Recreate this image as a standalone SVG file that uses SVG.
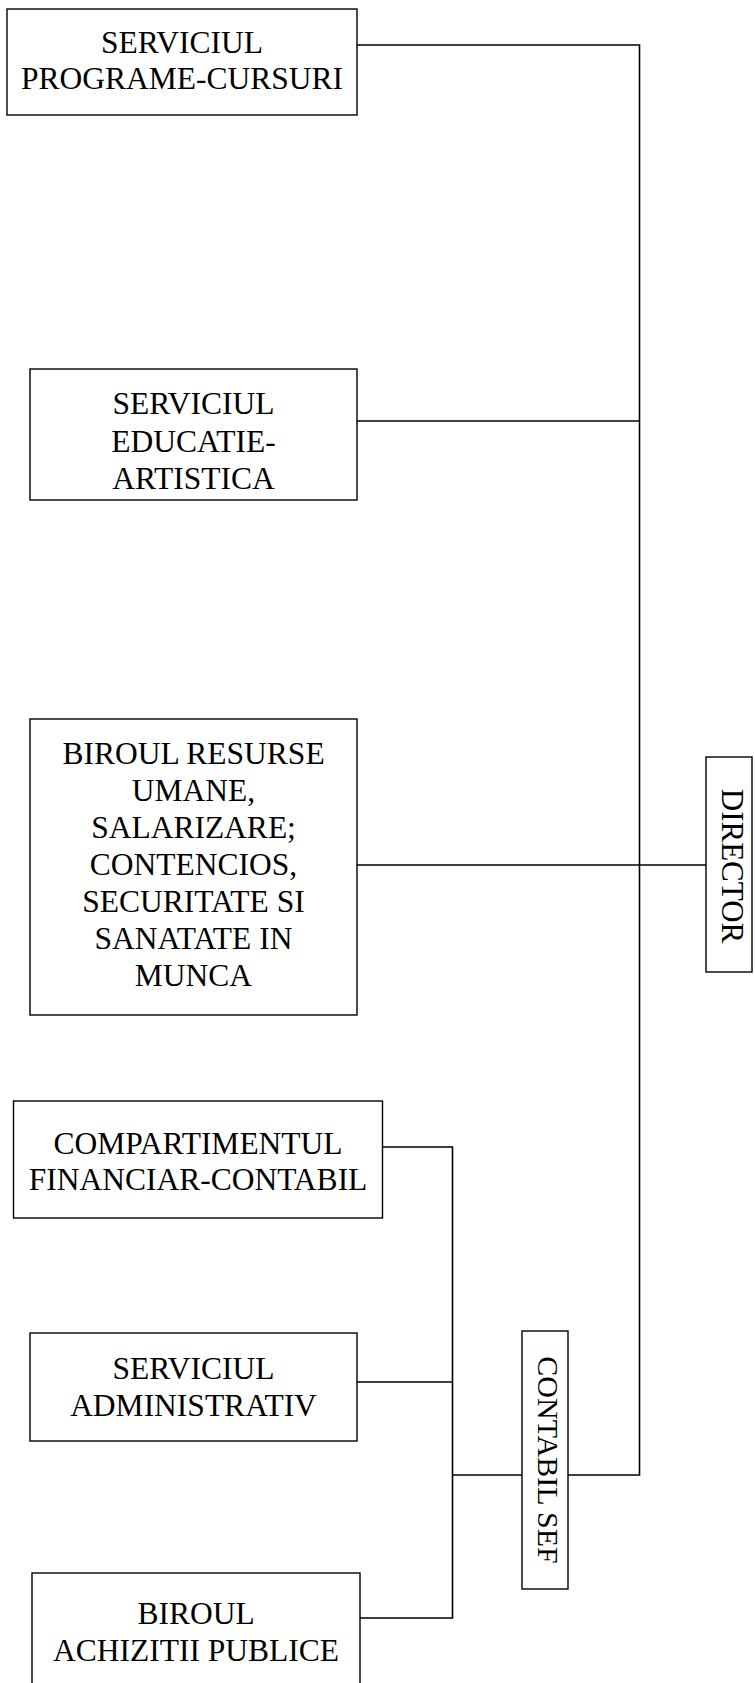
<svg xmlns="http://www.w3.org/2000/svg" width="755" height="1683" viewBox="0 0 755 1683">
<style>
.box{fill:#fff;stroke:#000;stroke-width:1.4}
.lbl{font-family:"Liberation Serif","Times New Roman",serif;font-size:31.5px;fill:#000;text-anchor:middle}
.con{fill:none;stroke:#000;stroke-width:1.6}
</style>
<rect width="755" height="1683" fill="#fff"/>
<g id="connectors">
<path class="con" d="M357 45 H639.5 V1475 H568"/>
<path class="con" d="M357 421 H639.5"/>
<path class="con" d="M357 865 H706"/>
<path class="con" d="M382 1147 H452.5 V1618 H360"/>
<path class="con" d="M357 1382 H452.5"/>
<path class="con" d="M452.5 1475 H522"/>
</g>
<g id="n-programe">
<rect class="box" x="7" y="9" width="350" height="106"/>
<text class="lbl" x="182" y="53">SERVICIUL</text>
<text class="lbl" x="182" y="89">PROGRAME-CURSURI</text>
</g>
<g id="n-educatie">
<rect class="box" x="30" y="369" width="327" height="131"/>
<text class="lbl" x="193.5" y="414">SERVICIUL</text>
<text class="lbl" x="193.5" y="452">EDUCATIE-</text>
<text class="lbl" x="193.5" y="489">ARTISTICA</text>
</g>
<g id="n-resurse">
<rect class="box" x="30" y="719" width="327" height="296"/>
<text class="lbl" x="193.5" y="764">BIROUL RESURSE</text>
<text class="lbl" x="193.5" y="801">UMANE,</text>
<text class="lbl" x="193.5" y="838">SALARIZARE;</text>
<text class="lbl" x="193.5" y="875">CONTENCIOS,</text>
<text class="lbl" x="193.5" y="912">SECURITATE SI</text>
<text class="lbl" x="193.5" y="949">SANATATE IN</text>
<text class="lbl" x="193.5" y="986">MUNCA</text>
</g>
<g id="n-director">
<rect class="box" x="706" y="757" width="46" height="215"/>
<text class="lbl" style="font-size:31px" transform="translate(722 866) rotate(90)">DIRECTOR</text>
</g>
<g id="n-financiar">
<rect class="box" x="13.5" y="1101" width="369" height="117"/>
<text class="lbl" x="198" y="1154">COMPARTIMENTUL</text>
<text class="lbl" x="198" y="1190">FINANCIAR-CONTABIL</text>
</g>
<g id="n-administrativ">
<rect class="box" x="30" y="1333" width="327" height="108"/>
<text class="lbl" x="193.5" y="1379">SERVICIUL</text>
<text class="lbl" x="193.5" y="1416">ADMINISTRATIV</text>
</g>
<g id="n-contabil">
<rect class="box" x="522" y="1331" width="46" height="258"/>
<text class="lbl" style="font-size:30px" transform="translate(538 1460) rotate(90)">CONTABIL SEF</text>
</g>
<g id="n-achizitii">
<rect class="box" x="32" y="1573" width="328" height="130"/>
<text class="lbl" x="196" y="1624">BIROUL</text>
<text class="lbl" x="196" y="1661">ACHIZITII PUBLICE</text>
</g>
</svg>
